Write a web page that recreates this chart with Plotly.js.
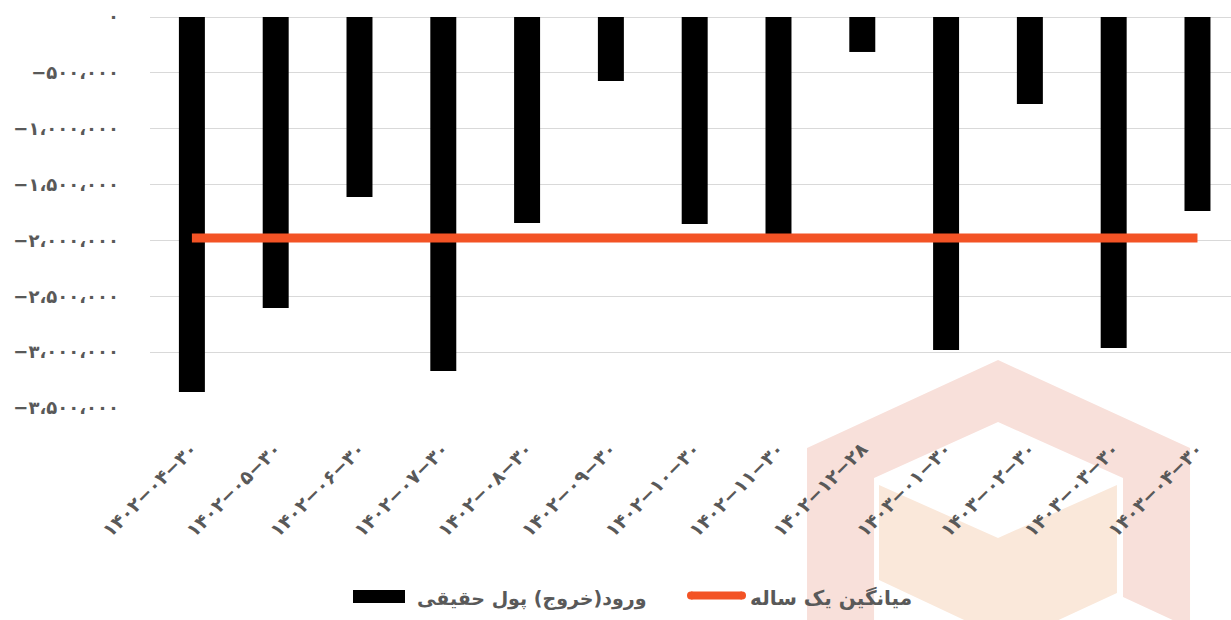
<!DOCTYPE html>
<html>
<head>
<meta charset="utf-8">
<script src="https://cdn.plot.ly/plotly-3.0.1.min.js"></script>
<style>html,body{margin:0;padding:0;background:#fff;}#chart{width:1231px;height:620px;}</style>
</head>
<body>
<div id="chart"></div>
<script>
// ---- data ----
var categories = ['۱۴۰۲−۰۴−۳۰','۱۴۰۲−۰۵−۳۰','۱۴۰۲−۰۶−۳۰','۱۴۰۲−۰۷−۳۰','۱۴۰۲−۰۸−۳۰','۱۴۰۲−۰۹−۳۰','۱۴۰۲−۱۰−۳۰','۱۴۰۲−۱۱−۳۰','۱۴۰۲−۱۲−۲۸','۱۴۰۳−۰۱−۳۰','۱۴۰۳−۰۲−۳۰','۱۴۰۳−۰۳−۳۰','۱۴۰۳−۰۴−۳۰'];
var realMoneyFlow = [-3357000,-2605000,-1611000,-3169000,-1844000,-573000,-1853000,-1952000,-313000,-2981000,-779000,-2963000,-1737000];
var yearAverage = [-1978000,-1978000,-1978000,-1978000,-1978000,-1978000,-1978000,-1978000,-1978000,-1978000,-1978000,-1978000,-1978000];
var yTickVals = [0,-500000,-1000000,-1500000,-2000000,-2500000,-3000000,-3500000];
var yTickText = ['۰','−۵۰۰،۰۰۰','−۱،۰۰۰،۰۰۰','−۱،۵۰۰،۰۰۰','−۲،۰۰۰،۰۰۰','−۲،۵۰۰،۰۰۰','−۳،۰۰۰،۰۰۰','−۳،۵۰۰،۰۰۰'];
var seriesNames = ['ورود(خروج) پول حقیقی','میانگین یک ساله'];

// ---- layout helpers (pixel -> paper) ----
var PL = 150, PR = 1231, PT = 17, PB = 408;
function fx(px){ return (px - PL) / (PR - PL); }
function fy(py){ return (PB - py) / (PB - PT); }
function poly(pts){ return 'M' + pts.map(function(p){ return fx(p[0]).toFixed(4) + ',' + fy(p[1]).toFixed(4); }).join('L') + 'Z'; }

var FONT = 'DejaVu Sans, Noto Sans, sans-serif';
var GREY = '#595959';
var BAR_COLOR = '#000000';
var LINE_COLOR = '#F35325';

var traces = [
  {type:'bar', x:categories, y:realMoneyFlow, name:seriesNames[0], marker:{color:BAR_COLOR}, hoverinfo:'skip'},
  {type:'scatter', mode:'lines', x:categories, y:yearAverage, name:seriesNames[1], line:{color:LINE_COLOR, width:9}, hoverinfo:'skip'}
];

var shapes = [
  // background watermark
  {type:'path', xref:'paper', yref:'paper', layer:'below', line:{width:0}, fillcolor:'#F8E0DA',
   path: poly([[807,448],[998,360],[1190,448],[1190,628],[1123,597],[1123,478],[998,422],[874,478],[874,640],[807,640]])},
  {type:'path', xref:'paper', yref:'paper', layer:'below', line:{width:0}, fillcolor:'#FAE8DA',
   path: poly([[879,485],[998,538],[1117,485],[1117,593],[1011,642],[879,580]])},
  // legend swatches
  {type:'rect', xref:'paper', yref:'paper', x0:fx(353), x1:fx(405), y0:fy(603), y1:fy(590), line:{width:0}, fillcolor:BAR_COLOR},
  {type:'line', xref:'paper', yref:'paper', x0:fx(691), x1:fx(742), y0:fy(595.5), y1:fy(595.5), line:{width:8, color:LINE_COLOR}},
  {type:'circle', xref:'paper', yref:'paper', x0:fx(687), x1:fx(695), y0:fy(599.5), y1:fy(591.5), line:{width:0}, fillcolor:LINE_COLOR},
  {type:'circle', xref:'paper', yref:'paper', x0:fx(738), x1:fx(746), y0:fy(599.5), y1:fy(591.5), line:{width:0}, fillcolor:LINE_COLOR}
];

var annotations = [
  {xref:'paper', yref:'paper', x:fx(648), y:fy(598), xanchor:'right', yanchor:'middle', showarrow:false,
   text:seriesNames[0], font:{family:FONT, size:19, color:GREY, weight:'bold'}},
  {xref:'paper', yref:'paper', x:fx(748), y:fy(598), xanchor:'left', yanchor:'middle', showarrow:false,
   text:seriesNames[1], font:{family:FONT, size:20, color:GREY, weight:'bold'}}
];

var layout = {
  width:1231, height:620,
  margin:{l:PL, r:1231-PR, t:PT, b:620-PB, pad:0},
  paper_bgcolor:'#ffffff', plot_bgcolor:'rgba(0,0,0,0)',
  font:{family:FONT, color:GREY},
  bargap:0.69,
  showlegend:false,
  xaxis:{type:'category', range:[-0.5,12.4], tickangle:-45, showgrid:false, zeroline:false, showline:false,
         ticks:'', ticklabelstandoff:25, tickfont:{family:FONT, size:19, color:GREY, weight:'bold'}, fixedrange:true},
  yaxis:{range:[-3500000,0], tickvals:yTickVals, ticktext:yTickText, showgrid:true, gridcolor:'#D9D9D9', gridwidth:1,
         zeroline:true, zerolinecolor:'#D9D9D9', zerolinewidth:1, showline:false, ticks:'', ticklabelstandoff:30,
         tickfont:{family:FONT, size:18, color:GREY, weight:'bold'}, fixedrange:true},
  shapes:shapes,
  annotations:annotations
};

Plotly.newPlot('chart', traces, layout, {displayModeBar:false, staticPlot:true});
</script>
</body>
</html>
